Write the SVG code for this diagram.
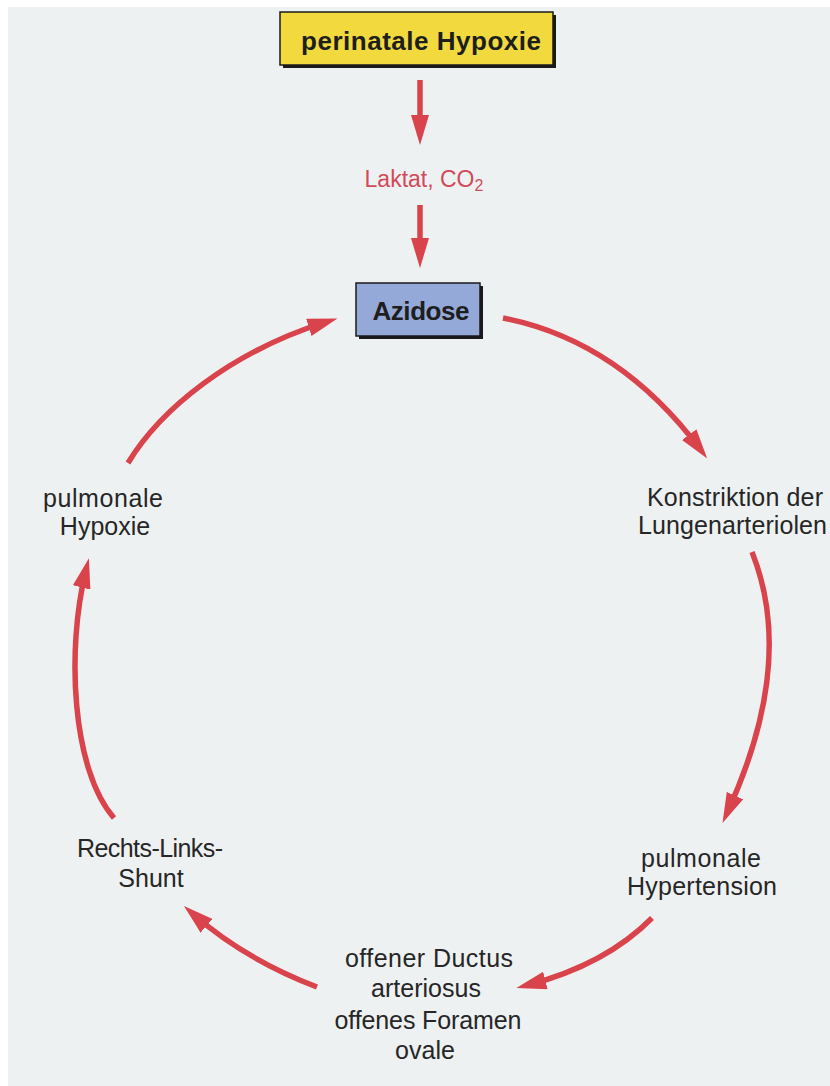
<svg xmlns="http://www.w3.org/2000/svg" width="830" height="1086" viewBox="0 0 830 1086">
<style>
.lbl{font-family:"Liberation Sans",Arial,sans-serif;font-size:25px;fill:#262626;text-anchor:middle}
.ttl{font-family:"Liberation Sans",Arial,sans-serif;font-size:26px;font-weight:bold;fill:#1e1e1e;text-anchor:middle}
.conn{fill:none;stroke:#d9434c;stroke-width:5.5;stroke-linecap:butt}
.red{font-family:"Liberation Sans",Arial,sans-serif;font-size:23px;fill:#d24a5a;text-anchor:middle}
</style>
<defs>
<marker id="ah" viewBox="0 0 30 18" refX="18" refY="9" markerWidth="30" markerHeight="18" markerUnits="userSpaceOnUse" orient="auto">
<path d="M0,0 L30,9 L0,18 Z" fill="#d9434c"/>
</marker>
</defs>
<rect x="0" y="0" width="830" height="1086" fill="#ffffff"/>
<rect x="8" y="7" width="822" height="1079" fill="#eef1f1"/>

<g id="connectors">
<path class="conn" d="M420,80 L420,133" marker-end="url(#ah)"/>
<path class="conn" d="M420,205 L420,256" marker-end="url(#ah)"/>
<path class="conn" d="M503,318 Q618.5,340.5 700,449" marker-end="url(#ah)"/>
<path class="conn" d="M752,552 Q796,662 727.5,812" marker-end="url(#ah)"/>
<path class="conn" d="M652,918 Q606,964.5 528,985" marker-end="url(#ah)"/>
<path class="conn" d="M317,987 Q245,959.5 193,914" marker-end="url(#ah)"/>
<path class="conn" d="M114,818 C72,770 66,650 86,570" marker-end="url(#ah)"/>
<path class="conn" d="M128,463 C160,410 230,352 326,322" marker-end="url(#ah)"/>
</g>

<g id="perinatale-hypoxie">
<rect x="283" y="15" width="273" height="53" fill="#1a1a1a"/>
<rect x="280" y="12" width="273" height="53" fill="#f2da3e" stroke="#1a1a1a" stroke-width="1.5"/>
<text class="ttl" x="421" y="50" textLength="240">perinatale Hypoxie</text>
</g>

<g id="laktat">
<text class="red" x="424" y="187">Laktat, CO<tspan font-size="16" dy="4">2</tspan></text>
</g>

<g id="azidose">
<rect x="359" y="286" width="124" height="53" fill="#1a1a1a"/>
<rect x="356" y="283" width="124" height="53" fill="#95a9d8" stroke="#1a1a1a" stroke-width="1.5"/>
<text class="ttl" x="421" y="320" textLength="97">Azidose</text>
</g>

<g id="konstriktion">
<text class="lbl" x="647" y="506" style="text-anchor:start" textLength="176">Konstriktion der</text>
<text class="lbl" x="638" y="534" style="text-anchor:start" textLength="189">Lungenarteriolen</text>
</g>

<g id="pulmonale-hypertension">
<text class="lbl" x="701" y="867" textLength="120">pulmonale</text>
<text class="lbl" x="702" y="895" textLength="150">Hypertension</text>
</g>

<g id="ductus-foramen">
<text class="lbl" x="429" y="967" textLength="168">offener Ductus</text>
<text class="lbl" x="426" y="997">arteriosus</text>
<text class="lbl" x="428" y="1029" textLength="187">offenes Foramen</text>
<text class="lbl" x="425" y="1059">ovale</text>
</g>

<g id="rechts-links-shunt">
<text class="lbl" x="150" y="857" textLength="146">Rechts-Links-</text>
<text class="lbl" x="151" y="887">Shunt</text>
</g>

<g id="pulmonale-hypoxie">
<text class="lbl" x="103" y="507" textLength="120">pulmonale</text>
<text class="lbl" x="105" y="535">Hypoxie</text>
</g>
</svg>
